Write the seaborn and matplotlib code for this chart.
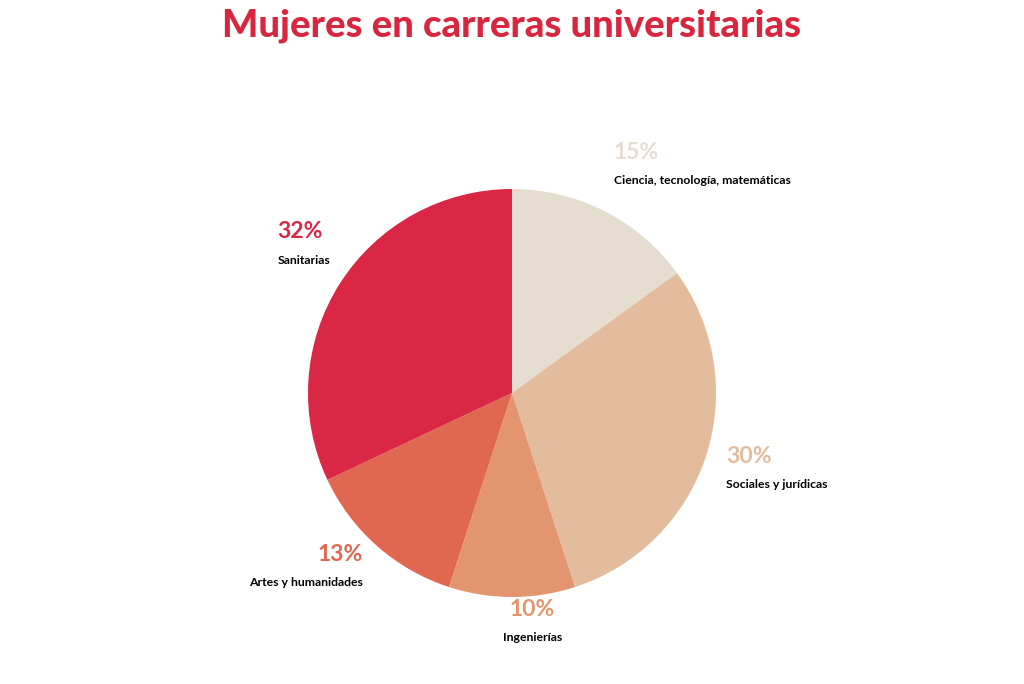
import matplotlib
matplotlib.use("Agg")
import matplotlib.pyplot as plt
import seaborn as sns

# Data (clockwise from 12 o'clock)
categories = [
    "Ciencia, tecnología, matemáticas",
    "Sociales y jurídicas",
    "Ingenierías",
    "Artes y humanidades",
    "Sanitarias",
]
shares = [15, 30, 10, 13, 32]
slice_colors = ["#E5DDD0", "#E2BC9C", "#E39570", "#E06750", "#D92745"]

# label anchors in pie units (radius = 1) and alignment
label_pos = [(0.50, 1.18, "left"), (1.05, -0.31, "left"), (0.10, -1.06, "center"),
             (-0.73, -0.79, "right"), (-1.15, 0.79, "left")]


def main():
    sns.set_theme(style="white")
    plt.rcParams["font.family"] = ["Lato", "DejaVu Sans"]

    fig = plt.figure(figsize=(10.24, 6.84), dpi=100)
    ax = fig.add_axes([0, 0, 1, 1])

    ax.pie(
        shares,
        colors=slice_colors,
        startangle=90,
        counterclock=False,
        radius=1.0,
        wedgeprops={"linewidth": 0},
    )

    for (x, y, ha), cat, val, col in zip(label_pos, categories, shares, slice_colors):
        ax.text(x, y, f"{val}%", color=col, fontsize=16.5, fontweight="bold",
                ha=ha, va="center")
        ax.text(x, y - 0.14, cat, color="black", fontsize=8.8, fontweight="bold",
                ha=ha, va="center")

    ax.set_xlim(-512 / 204, 512 / 204)
    ax.set_ylim(-291 / 204, 393 / 204)
    ax.set_aspect("equal")
    ax.axis("off")

    fig.text(0.5, 0.962, "Mujeres en carreras universitarias", color="#D7263D",
             fontsize=27.5, fontweight="black", ha="center", va="center")

    fig.savefig("out.png", dpi=100, facecolor="white")
    plt.close(fig)


if __name__ == "__main__":
    main()
